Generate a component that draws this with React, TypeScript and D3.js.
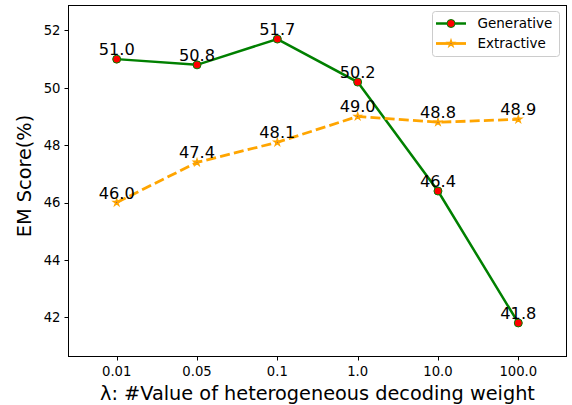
import React from "react";
import * as d3 from "d3";

const categories = ["0.01", "0.05", "0.1", "1.0", "10.0", "100.0"];
const generative = [51.0, 50.8, 51.7, 50.2, 46.4, 41.8];
const extractive = [46.0, 47.4, 48.1, 49.0, 48.8, 48.9];
const yTicks = [42, 44, 46, 48, 50, 52];

const width = 572;
const height = 405;
const left = 68.5;
const right = 566.5;
const top = 5.5;
const bottom = 356.5;

const font = "DejaVu Sans, sans-serif";

export default function App() {
  const x = d3.scaleLinear().domain([-0.6, 5.6]).range([left, right]);
  const y = d3.scaleLinear().domain([40.63, 52.87]).range([bottom, top]);

  const line = d3
    .line<number>()
    .x((_, i) => x(i))
    .y((d) => y(d));

  const star = d3.symbol().type(d3.symbolStar).size(11)();

  return (
    <svg
      width={width}
      height={height}
      style={{ position: "absolute", left: 0, top: 0, background: "#fff" }}
    >
      <rect x={0} y={0} width={width} height={height} fill="#fff" />

      {/* series */}
      <path d={line(generative) ?? ""} fill="none" stroke="green" strokeWidth={2.5} />
      <path
        d={line(extractive) ?? ""}
        fill="none"
        stroke="orange"
        strokeWidth={2.8}
        strokeDasharray="10 4.2"
      />
      {generative.map((d, i) => (
        <circle key={"g" + i} cx={x(i)} cy={y(d)} r={4} fill="red" stroke="green" strokeWidth={1} />
      ))}
      {extractive.map((d, i) => (
        <path
          key={"e" + i}
          d={star ?? ""}
          transform={`translate(${x(i)},${y(d)})`}
          fill="blue"
          stroke="orange"
          strokeWidth={1.6}
        />
      ))}

      {/* value labels */}
      {generative.map((d, i) => (
        <text
          key={"gl" + i}
          x={x(i)}
          y={y(d) - 4}
          textAnchor="middle"
          fontFamily={font}
          fontSize={16.2}
          fill="#000"
        >
          {d.toFixed(1)}
        </text>
      ))}
      {extractive.map((d, i) => (
        <text
          key={"el" + i}
          x={x(i)}
          y={y(d) - 4}
          textAnchor="middle"
          fontFamily={font}
          fontSize={16.2}
          fill="#000"
        >
          {d.toFixed(1)}
        </text>
      ))}

      {/* axes frame */}
      <rect x={left} y={top} width={right - left} height={bottom - top} fill="none" stroke="#000" strokeWidth={1} />

      {/* y ticks */}
      {yTicks.map((t) => (
        <g key={"yt" + t}>
          <line x1={left - 4} x2={left} y1={Math.round(y(t)) + 0.5} y2={Math.round(y(t)) + 0.5} stroke="#000" strokeWidth={1} />
          <text
            x={left - 8}
            y={y(t)}
            dy="0.36em"
            textAnchor="end"
            fontFamily={font}
            fontSize={13.2}
            fill="#000"
          >
            {t}
          </text>
        </g>
      ))}

      {/* x ticks */}
      {categories.map((c, i) => (
        <g key={"xt" + i}>
          <line x1={Math.round(x(i)) + 0.5} x2={Math.round(x(i)) + 0.5} y1={bottom} y2={bottom + 4} stroke="#000" strokeWidth={1} />
          <text
            x={x(i)}
            y={bottom + 19}
            textAnchor="middle"
            fontFamily={font}
            fontSize={13.2}
            fill="#000"
          >
            {c}
          </text>
        </g>
      ))}

      {/* axis labels */}
      <text
        x={317.5}
        y={400}
        textAnchor="middle"
        fontFamily={font}
        fontSize={19.3}
        fill="#000"
      >
        λ: #Value of heterogeneous decoding weight
      </text>
      <text
        transform="translate(31,176) rotate(-90)"
        textAnchor="middle"
        fontFamily={font}
        fontSize={19.3}
        fill="#000"
      >
        EM Score(%)
      </text>

      {/* legend */}
      <g>
        <rect x={432.5} y={11.5} width={127} height={45} rx={3} fill="#fff" fillOpacity={0.8} stroke="#ccc" strokeWidth={1} />
        <line x1={436} x2={466} y1={23.5} y2={23.5} stroke="green" strokeWidth={2.5} />
        <circle cx={451} cy={23.5} r={4} fill="red" stroke="green" strokeWidth={1} />
        <text x={477.5} y={23.5} dy="0.36em" fontFamily={font} fontSize={13.5} fill="#000">
          Generative
        </text>
        <line x1={436} x2={466} y1={43.5} y2={43.5} stroke="orange" strokeWidth={2.8} />
        <path d={star ?? ""} transform="translate(451,43.5)" fill="blue" stroke="orange" strokeWidth={1.6} />
        <text x={477.5} y={43.5} dy="0.36em" fontFamily={font} fontSize={13.5} fill="#000">
          Extractive
        </text>
      </g>
    </svg>
  );
}
